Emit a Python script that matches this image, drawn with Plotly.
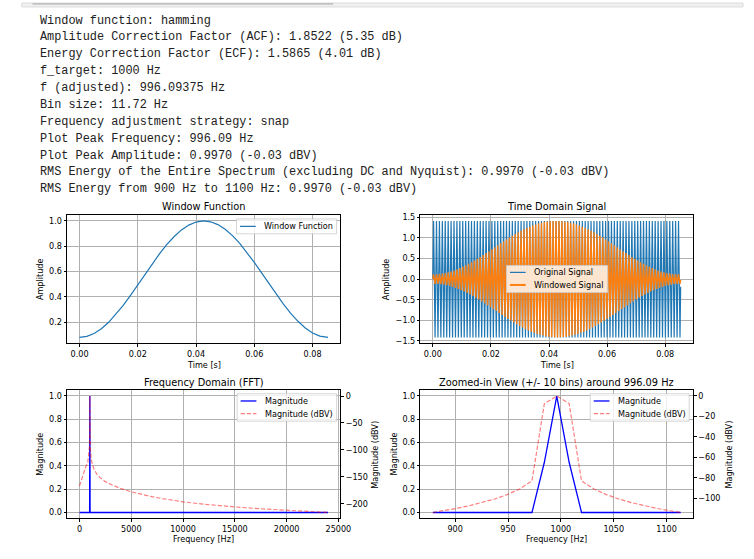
import plotly.graph_objects as go

# ---------------- data ----------------
info_lines = [
    "Window function: hamming",
    "Amplitude Correction Factor (ACF): 1.8522 (5.35 dB)",
    "Energy Correction Factor (ECF): 1.5865 (4.01 dB)",
    "f_target: 1000 Hz",
    "f (adjusted): 996.09375 Hz",
    "Bin size: 11.72 Hz",
    "Frequency adjustment strategy: snap",
    "Plot Peak Frequency: 996.09 Hz",
    "Plot Peak Amplitude: 0.9970 (-0.03 dBV)",
    "RMS Energy of the Entire Spectrum (excluding DC and Nyquist): 0.9970 (-0.03 dBV)",
    "RMS Energy from 900 Hz to 1100 Hz: 0.9970 (-0.03 dBV)",
]

# window function
window_t = [0.0, 0.0025, 0.005, 0.0075, 0.01, 0.0125, 0.015, 0.0175, 0.02, 0.0225,
            0.025, 0.0275, 0.03, 0.0325, 0.035, 0.0375, 0.04, 0.0425, 0.045, 0.0475,
            0.05, 0.0525, 0.055, 0.0575, 0.06, 0.0625, 0.065, 0.0675, 0.07, 0.0725,
            0.075, 0.0775, 0.08, 0.0825, 0.085, 0.0853125]
window_vals = [0.080, 0.088, 0.111, 0.148, 0.199, 0.262, 0.333, 0.412, 0.495, 0.580,
               0.663, 0.742, 0.814, 0.877, 0.929, 0.967, 0.991, 1.000, 0.993, 0.971,
               0.934, 0.884, 0.822, 0.751, 0.672, 0.590, 0.506, 0.423, 0.343, 0.270,
               0.207, 0.154, 0.115, 0.090, 0.080, 0.080]

# time-domain tone
tone_freq = 996.09375          # Hz
tone_peak = 1.414              # original signal peak
t_end = 0.0853125
orig_end = -0.183
win_end = -0.015
# windowed signal peak per cycle (first half, symmetric about the centre)
windowed_peaks_half = [0.114, 0.117, 0.124, 0.135, 0.149, 0.166, 0.187, 0.211, 0.237, 0.267,
                       0.299, 0.334, 0.372, 0.411, 0.452, 0.495, 0.540, 0.586, 0.632, 0.680,
                       0.728, 0.776, 0.824, 0.871, 0.918, 0.965, 1.010, 1.054, 1.096, 1.136,
                       1.174, 1.211, 1.244, 1.275, 1.304, 1.329, 1.351, 1.370, 1.386, 1.398,
                       1.407, 1.412, 1.414]

# full spectrum
bin_size = 11.71875
full_mag_freq = [0.0, 972.66, 984.375, 996.09, 1007.81, 1019.53, 24000.0]
full_mag = [0.0, 0.0, 0.43, 0.997, 0.43, 0.0, 0.0]
full_db_freq = [0, 250, 570, 800, 900, 949.2, 972.66, 984.375, 996.09, 1007.81, 1019.53,
                1043.0, 1113.3, 1200, 1400, 1700, 2000, 2500, 3000, 4000, 5000, 6000,
                7000, 8000, 10000, 12000, 14000, 16000, 18000, 20000, 22000, 24000]
full_db = [-167, -151, -133, -123, -111, -96.3, -83.0, -7.4, -0.03, -7.4, -83.0,
           -96.3, -113.8, -124, -136, -146, -152, -159, -164, -172, -178, -183,
           -187, -190.5, -196.5, -201, -204.5, -207.5, -210, -212.5, -214.5, -216.3]

# zoomed spectrum (+/- 10 bins around bin 85)
zoom_bins = list(range(75, 96))
zoom_mag = [0, 0, 0, 0, 0, 0, 0, 0, 0, 0.43, 0.997, 0.43, 0, 0, 0, 0, 0, 0, 0, 0, 0]
zoom_db = [-113.8, -111.9, -109.6, -107.0, -104.1, -100.6, -96.3, -90.8, -83.0, -7.4,
           -0.03, -7.4, -83.0, -90.8, -96.3, -100.6, -104.1, -107.0, -109.6, -111.9, -113.8]

# ---------------- helpers ----------------
W, H = 754, 559
def PX(x):
    return x / W
def PY(y):
    return 1 - y / H
def pad_range(vals, frac=0.05):
    lo, hi = min(vals), max(vals)
    d = (hi - lo) * frac
    return [lo - d, hi + d]

FONT = "DejaVu Sans"
TICK = 8.1
TITLE = 9.8

# layout geometry (pixels)
COL1 = (68.1, 345.5)
COL2 = (426.7, 703.3)
ROW1 = (214.4, 343.9)
ROW2 = (391.4, 520.9)

# ---------------- build series ----------------
windowed_peaks = windowed_peaks_half + windowed_peaks_half[-2::-1]
t_sig, y_orig, y_win = [0.0], [0.0], [0.0]
for j, a in enumerate(windowed_peaks):
    t_sig += [(j + 0.25) / tone_freq, (j + 0.75) / tone_freq]
    y_orig += [tone_peak, -tone_peak]
    y_win += [a, -a]
t_sig.append(t_end); y_orig.append(orig_end); y_win.append(win_end)

zoom_freq = [b * bin_size for b in zoom_bins]

BLUE_T = "#1f77b4"
ORANGE_T = "#ff7f0e"
RED_A = "rgba(255,0,0,0.5)"
DASH = "4.3px,1.9px"

fig = go.Figure()
fig.add_trace(go.Scatter(x=window_t, y=window_vals, mode="lines", line=dict(color=BLUE_T, width=1.2),
                         xaxis="x", yaxis="y", showlegend=False, name="Window Function"))
fig.add_trace(go.Scatter(x=t_sig, y=y_orig, mode="lines", line=dict(color=BLUE_T, width=1.2),
                         xaxis="x2", yaxis="y2", showlegend=False, name="Original Signal"))
fig.add_trace(go.Scatter(x=t_sig, y=y_win, mode="lines", line=dict(color=ORANGE_T, width=1.4),
                         xaxis="x2", yaxis="y2", showlegend=False, name="Windowed Signal"))
fig.add_trace(go.Scatter(x=full_mag_freq, y=full_mag, mode="lines", line=dict(color="blue", width=1.3),
                         xaxis="x3", yaxis="y3", showlegend=False, name="Magnitude"))
fig.add_trace(go.Scatter(x=full_db_freq, y=full_db, mode="lines", line=dict(color=RED_A, width=1.2, dash=DASH),
                         xaxis="x3", yaxis="y5", showlegend=False, name="Magnitude (dBV)"))
fig.add_trace(go.Scatter(x=zoom_freq, y=zoom_mag, mode="lines", line=dict(color="blue", width=1.3),
                         xaxis="x4", yaxis="y4", showlegend=False, name="Magnitude"))
fig.add_trace(go.Scatter(x=zoom_freq, y=zoom_db, mode="lines", line=dict(color=RED_A, width=1.2, dash=DASH),
                         xaxis="x4", yaxis="y6", showlegend=False, name="Magnitude (dBV)"))

def ax(**kw):
    d = dict(showline=True, linecolor="black", linewidth=0.8, mirror=True,
             ticks="outside", ticklen=2.7, tickwidth=0.8, tickcolor="black",
             showgrid=True, gridcolor="#b0b0b0", gridwidth=0.7, zeroline=False,
             tickfont=dict(family=FONT, size=TICK, color="black"))
    d.update(kw)
    return d

dom_x1 = [PX(COL1[0]), PX(COL1[1])]
dom_x2 = [PX(COL2[0]), PX(COL2[1])]
dom_y1 = [PY(ROW1[1]), PY(ROW1[0])]
dom_y2 = [PY(ROW2[1]), PY(ROW2[0])]

layout = dict(
    width=W, height=H, autosize=False,
    margin=dict(l=0, r=0, t=0, b=0, pad=0),
    paper_bgcolor="white", plot_bgcolor="white",
    font=dict(family=FONT, size=TICK, color="black"),
    showlegend=False,
    xaxis=ax(domain=dom_x1, anchor="y", range=pad_range([0, t_end]), tick0=0, dtick=0.02, tickformat=".2f"),
    yaxis=ax(domain=dom_y1, anchor="x", range=pad_range(window_vals), tick0=0, dtick=0.2, tickformat=".1f"),
    xaxis2=ax(domain=dom_x2, anchor="y2", range=pad_range([0, t_end]), tick0=0, dtick=0.02, tickformat=".2f"),
    yaxis2=ax(domain=dom_y1, anchor="x2", range=pad_range(y_orig + y_win), tick0=0, dtick=0.5, tickformat=".1f"),
    xaxis3=ax(domain=dom_x1, anchor="y3", range=pad_range(full_mag_freq + full_db_freq), tick0=0, dtick=5000, tickformat="d"),
    yaxis3=ax(domain=dom_y2, anchor="x3", range=pad_range(full_mag), tick0=0, dtick=0.2, tickformat=".1f"),
    yaxis5=ax(overlaying="y3", anchor="x3", side="right", range=pad_range(full_db), tick0=0, dtick=50,
              tickformat="d", showgrid=False, mirror=False),
    xaxis4=ax(domain=dom_x2, anchor="y4", range=pad_range(zoom_freq), tick0=0, dtick=50, tickformat="d"),
    yaxis4=ax(domain=dom_y2, anchor="x4", range=pad_range(zoom_mag), tick0=0, dtick=0.2, tickformat=".1f"),
    yaxis6=ax(overlaying="y4", anchor="x4", side="right", range=pad_range(zoom_db), tick0=0, dtick=20,
              tickformat="d", showgrid=False, mirror=False),
)

shapes = []
annotations = []

def text(x, y, s, size=TICK, angle=0, xanchor="center", family=FONT, color="black"):
    annotations.append(dict(x=PX(x), y=PY(y), xref="paper", yref="paper", text=s, showarrow=False,
                            xanchor=xanchor, yanchor="middle", textangle=angle,
                            font=dict(family=family, size=size, color=color)))

# notebook chrome at the top
shapes.append(dict(type="rect", xref="paper", yref="paper", x0=PX(22), x1=PX(754), y0=PY(4), y1=PY(0),
                   fillcolor="#f0f0f0", line=dict(color="#dcdcdc", width=1), layer="above"))
shapes.append(dict(type="rect", xref="paper", yref="paper", x0=PX(33), x1=PX(338), y0=PY(1.8), y1=PY(0),
                   fillcolor="#c2c2c2", line=dict(width=0), layer="above"))

# printed text
for i, line in enumerate(info_lines):
    text(38.3, 17.7 + i * 17.07, line, size=11.87, xanchor="left", family="Liberation Mono", color="#212121")

# titles and axis labels
c1 = (COL1[0] + COL1[1]) / 2
c2 = (COL2[0] + COL2[1]) / 2
r1 = (ROW1[0] + ROW1[1]) / 2
r2 = (ROW2[0] + ROW2[1]) / 2
text(c1, 205.7, "Window Function", size=TITLE)
text(c2, 205.7, "Time Domain Signal", size=TITLE)
text(c1, 383.3, "Frequency Domain (FFT)", size=TITLE)
text(c2, 383.3, "Zoomed-in View (+/- 10 bins) around 996.09 Hz", size=TITLE)
text(c1, 365.7, "Time [s]")
text(c2, 365.7, "Time [s]")
text(c1, 542.3, "Frequency [Hz]")
text(c2, 542.3, "Frequency [Hz]")
text(40.5, r1, "Amplitude", angle=-90)
text(391.7, r1, "Amplitude", angle=-90)
text(41, r2, "Magnitude", angle=-90)
text(400, r2, "Magnitude", angle=-90)
text(381, r2, "Magnitude (dBV)", angle=-90)
text(740, r2, "Magnitude (dBV)", angle=-90)

# legends
def legend(x0, y0, x1, y1, entries):
    shapes.append(dict(type="rect", xref="paper", yref="paper", x0=PX(x0), x1=PX(x1), y0=PY(y1), y1=PY(y0),
                       fillcolor="rgba(255,255,255,0.8)", line=dict(color="#cccccc", width=0.8), layer="above"))
    for label, color, width, dash, yc in entries:
        shapes.append(dict(type="line", xref="paper", yref="paper", x0=PX(x0 + 3.5), x1=PX(x0 + 19.5),
                           y0=PY(yc), y1=PY(yc), line=dict(color=color, width=width, dash=dash), layer="above"))
        text(x0 + 26, yc, label, xanchor="left")

legend(240.0, 218.3, 341.6, 233.3, [("Window Function", BLUE_T, 1.2, "solid", 225.8)])
legend(514.0, 265.3, 616.7, 292.7, [("Original Signal", BLUE_T, 1.2, "solid", 272.3),
                                    ("Windowed Signal", ORANGE_T, 2.0, "solid", 285.0)])
legend(240.7, 395.0, 341.6, 422.7, [("Magnitude", "blue", 1.3, "solid", 402.3),
                                    ("Magnitude (dBV)", RED_A, 1.2, DASH, 415.0)])
legend(599.0, 395.0, 699.4, 422.7, [("Magnitude", "blue", 1.3, "solid", 402.3),
                                    ("Magnitude (dBV)", RED_A, 1.2, DASH, 415.0)])

layout["shapes"] = shapes
layout["annotations"] = annotations
fig.update_layout(**layout)
fig.write_html("out.html")
